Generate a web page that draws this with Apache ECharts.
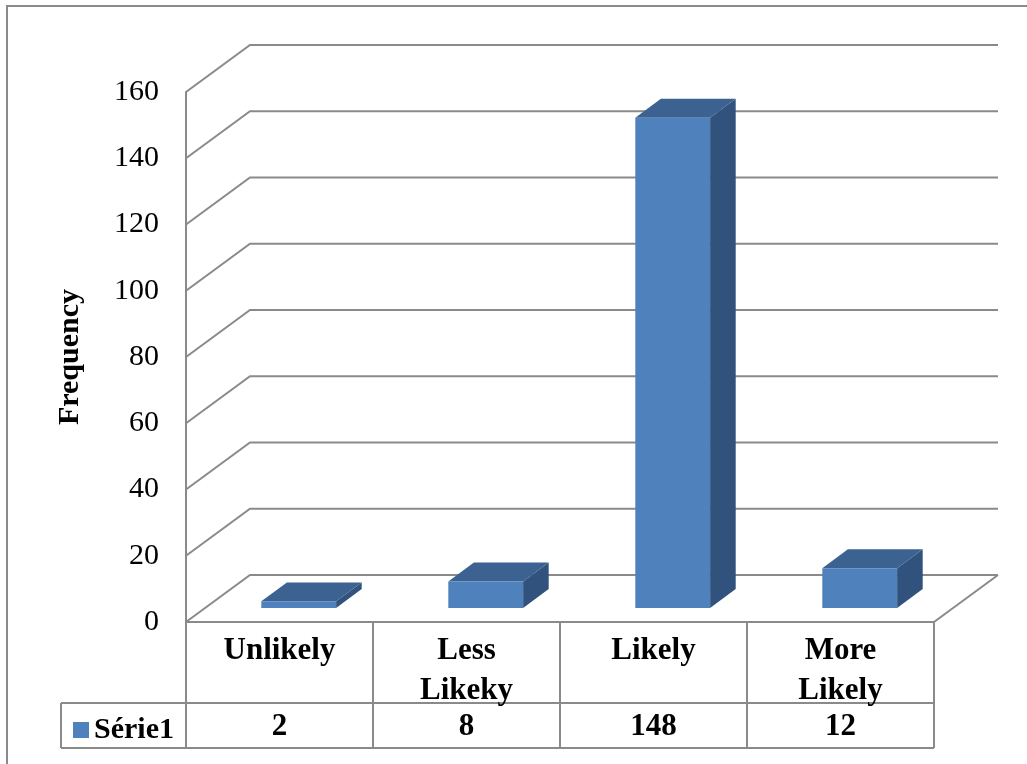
<!DOCTYPE html>
<html>
<head>
<meta charset="utf-8">
<script src="https://cdn.jsdelivr.net/npm/echarts@6/dist/echarts.min.js"></script>
<style>
  html, body { margin: 0; padding: 0; background: #fff; }
  #main { width: 1027px; height: 764px; }
</style>
</head>
<body>
<div id="main"></div>
<script>
// data
const categories = ['Unlikely', 'Less\nLikeky', 'Likely', 'More\nLikely'];
const values = [2, 8, 148, 12];
const seriesName = 'Série1';
const yMin = 0, yMax = 160, yStep = 20;
const yTicks = [0, 20, 40, 60, 80, 100, 120, 140, 160];

// 3d look
const DX = 64, DY = -47;          // depth of the box
const F0 = 0.3, F1 = 0.7;         // bar depth range
const GRID = '#8a8a8a';
const FONT = 'Liberation Serif';
const ROW1 = 81, ROW2 = 45, LEG_W = 125;

const chart = echarts.init(document.getElementById('main'), null, { renderer: 'canvas' });

// gridlines on the side and back walls
function renderWalls(params, api) {
  const cs = params.coordSys;
  const p = api.coord([0, api.value(1)]);
  const y = p[1];
  const children = [{
    type: 'polyline',
    shape: { points: [[cs.x, y], [cs.x + DX, y + DY], [cs.x + cs.width + DX, y + DY]] },
    style: { stroke: GRID, lineWidth: 2, fill: null }
  }];
  if (api.value(1) === 0) {
    children.push({
      type: 'line',
      shape: { x1: cs.x + cs.width, y1: y, x2: cs.x + cs.width + DX, y2: y + DY },
      style: { stroke: GRID, lineWidth: 2 }
    });
  }
  return { type: 'group', children: children };
}

function renderBar(params, api) {
  const i = api.value(0);
  const top = api.coord([i, api.value(1)]);
  const base = api.coord([i, 0]);
  const bw = api.size([1, 0])[0] * 0.4;
  const L = top[0] - bw / 2, R = top[0] + bw / 2;
  const fx = DX * F0, fy = DY * F0, bx = DX * F1, by = DY * F1;
  return {
    type: 'group',
    children: [{
      type: 'polygon',
      shape: { points: [[R + fx, top[1] + fy], [R + bx, top[1] + by], [R + bx, base[1] + by], [R + fx, base[1] + fy]] },
      style: { fill: '#31527c' }
    }, {
      type: 'polygon',
      shape: { points: [[L + fx, top[1] + fy], [R + fx, top[1] + fy], [R + bx, top[1] + by], [L + bx, top[1] + by]] },
      style: { fill: '#3c6291' }
    }, {
      type: 'rect',
      shape: { x: L + fx, y: top[1] + fy, width: bw, height: base[1] - top[1] },
      style: { fill: '#4f81bd' }
    }]
  };
}

// data table under the plot
function renderTable(params, api) {
  const i = api.value(0);
  const base = api.coord([i, 0]);
  const cw = api.size([1, 0])[0];
  const x0 = base[0] - cw / 2, x1 = base[0] + cw / 2, y0 = base[1];
  const ln = (a, b, c, d) => ({ type: 'line', shape: { x1: a, y1: b, x2: c, y2: d }, style: { stroke: GRID, lineWidth: 2 } });
  const children = [
    ln(x1, y0, x1, y0 + ROW1 + ROW2),
    ln(x0, y0 + ROW1, x1, y0 + ROW1),
    ln(x0, y0 + ROW1 + ROW2, x1, y0 + ROW1 + ROW2),
    {
      type: 'text',
      style: {
        x: base[0], y: y0 + 9, text: categories[i], align: 'center', verticalAlign: 'top',
        font: 'bold 31px "' + FONT + '"', lineHeight: 40, fill: '#000'
      }
    }, {
      type: 'text',
      style: {
        x: base[0], y: y0 + ROW1 + ROW2 / 2 + 1, text: String(api.value(1)), align: 'center', verticalAlign: 'middle',
        font: 'bold 31px "' + FONT + '"', fill: '#000'
      }
    }
  ];
  if (i === 0) {
    children.push(ln(x0, y0, x0, y0 + ROW1 + ROW2));
    children.push(ln(x0 - LEG_W, y0 + ROW1, x0, y0 + ROW1));
    children.push(ln(x0 - LEG_W, y0 + ROW1 + ROW2, x0, y0 + ROW1 + ROW2));
    children.push(ln(x0 - LEG_W, y0 + ROW1, x0 - LEG_W, y0 + ROW1 + ROW2));
  }
  return { type: 'group', children: children };
}

const option = {
  backgroundColor: '#fff',
  animation: false,
  grid: { left: 186, right: 93, top: 92, bottom: 142 },
  graphic: [{
    type: 'rect',
    shape: { x: 7, y: 6, width: 1100, height: 900 },
    style: { fill: null, stroke: '#8a8a8a', lineWidth: 2 },
    silent: true
  }],
  legend: {
    data: [seriesName],
    left: 68, top: 710,
    icon: 'rect', itemWidth: 16, itemHeight: 16, itemGap: 6,
    selectedMode: false,
    textStyle: { fontFamily: FONT, fontWeight: 'bold', fontSize: 30, color: '#000', padding: [0, 0, 0, 0] }
  },
  xAxis: {
    type: 'category',
    data: categories,
    axisLine: { show: true, lineStyle: { color: GRID, width: 2 } },
    axisTick: { show: false },
    axisLabel: { show: false },
    splitLine: { show: false }
  },
  yAxis: {
    type: 'value',
    min: yMin, max: yMax, interval: yStep,
    name: 'Frequency',
    nameLocation: 'middle',
    nameGap: 101,
    nameRotate: 90,
    nameTextStyle: { fontFamily: FONT, fontWeight: 'bold', fontSize: 30, color: '#000' },
    axisLine: { show: true, lineStyle: { color: GRID, width: 2 } },
    axisTick: { show: false },
    axisLabel: { margin: 27, fontFamily: FONT, fontSize: 30, color: '#000' },
    splitLine: { show: false }
  },
  series: [{
    type: 'custom',
    name: 'walls',
    renderItem: renderWalls,
    data: yTicks.map(v => [0, v]),
    silent: true,
    z: 1
  }, {
    type: 'custom',
    name: seriesName,
    renderItem: renderBar,
    itemStyle: { color: '#4f81bd' },
    data: values.map((v, i) => [i, v]),
    z: 3
  }, {
    type: 'custom',
    name: 'table',
    renderItem: renderTable,
    data: values.map((v, i) => [i, v]),
    silent: true,
    z: 2
  }]
};

chart.setOption(option);
</script>
</body>
</html>
